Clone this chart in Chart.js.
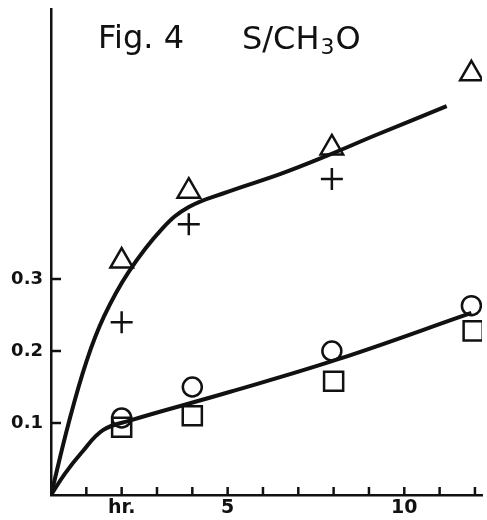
<!DOCTYPE html>
<html>
<head>
<meta charset="utf-8">
<script src="https://cdn.jsdelivr.net/npm/chart.js@4.4.1/dist/chart.umd.min.js"></script>
<style>
  body { margin: 0; background: #fff; }
  canvas { display: block; }
</style>
</head>
<body>
<canvas id="myChart" width="487" height="520"></canvas>
<script>
// points (time in hr, S/CH3O)
var triX = [2, 3.9, 7.95, 11.9];
var triY = [0.325, 0.422, 0.482, 0.585];
var crossX = [2, 3.9, 7.95];
var crossY = [0.240, 0.376, 0.439];
var circX = [2, 4, 7.95, 11.9];
var circY = [0.107, 0.150, 0.200, 0.263];
var sqX = [2, 4, 8, 11.95];
var sqY = [0.094, 0.110, 0.158, 0.228];

// hand drawn curves, traced
var upperX = [0, 0.5, 1.0, 1.5, 2.2, 3.15, 3.9, 5, 6.5, 7.8, 9.2, 11.2];
var upperY = [0, 0.10, 0.185, 0.248, 0.31, 0.37, 0.40, 0.421, 0.446, 0.471, 0.50, 0.54];
var lowerX = [0, 0.4, 0.85, 1.47, 2.2, 5.05, 8.15, 11.9];
var lowerY = [0, 0.03, 0.058, 0.09, 0.103, 0.143, 0.189, 0.253];

// ticks
var xTickMarks = [1, 2, 3, 4, 5, 6, 7, 8, 9, 10, 11, 12];
var xLabelAt = [2, 5, 10];
var xLabelText = ['hr.', '5', '10'];
var yTickValues = [0.1, 0.2, 0.3];
var yTickLabels = ['0.1', '0.2', '0.3'];

function pts(xs, ys) {
  return xs.map(function (x, i) { return {x: x, y: ys[i]}; });
}

var ink = '#111';

function marker(xs, ys, style, r) {
  return {
    type: 'scatter',
    data: pts(xs, ys),
    pointStyle: style,
    pointRadius: r,
    pointBorderWidth: 2.5,
    borderColor: ink,
    backgroundColor: 'rgba(0,0,0,0)'
  };
}

function curve(xs, ys) {
  return {
    type: 'line',
    data: pts(xs, ys),
    borderColor: ink,
    borderWidth: 4,
    pointRadius: 0,
    tension: 0.4,
    fill: false
  };
}

// short tick marks drawn inward, plus the lettered title
var handPlugin = {
  id: 'hand',
  afterDraw: function (chart) {
    var ctx = chart.ctx, xs = chart.scales.x, ys = chart.scales.y;
    ctx.save();
    ctx.strokeStyle = ink;
    ctx.lineWidth = 2.5;
    xTickMarks.forEach(function (v) {
      var px = xs.getPixelForValue(v);
      ctx.beginPath();
      ctx.moveTo(px, ys.bottom);
      ctx.lineTo(px, ys.bottom - 8);
      ctx.stroke();
    });
    yTickValues.forEach(function (v) {
      var py = ys.getPixelForValue(v);
      ctx.beginPath();
      ctx.moveTo(xs.left, py);
      ctx.lineTo(xs.left + 10, py);
      ctx.stroke();
    });
    ctx.fillStyle = ink;
    ctx.textBaseline = 'alphabetic';
    ctx.font = '32px "DejaVu Sans"';
    ctx.fillText('Fig. 4', 98, 48);
    var x0 = 242;
    ctx.fillText('S/CH', x0, 49);
    x0 += ctx.measureText('S/CH').width;
    ctx.font = '22px "DejaVu Sans"';
    ctx.fillText('3', x0 + 1, 54);
    x0 += ctx.measureText('3').width + 2;
    ctx.font = '32px "DejaVu Sans"';
    ctx.fillText('O', x0, 49);
    ctx.restore();
  }
};

var config = {
  data: {
    datasets: [
      curve(upperX, upperY),
      curve(lowerX, lowerY),
      marker(triX, triY, 'triangle', 13),
      marker(crossX, crossY, 'cross', 11),
      marker(circX, circY, 'circle', 9.5),
      marker(sqX, sqY, 'rect', 13.5)
    ]
  },
  options: {
    responsive: false,
    animation: false,
    devicePixelRatio: 1,
    layout: { autoPadding: false, padding: { top: 9, right: 5, left: 0, bottom: 0 } },
    plugins: { legend: { display: false }, tooltip: { enabled: false } },
    scales: {
      x: {
        type: 'linear',
        min: 0,
        max: 12.2,
        afterBuildTicks: function (s) {
          s.ticks = xTickMarks.map(function (v) { return {value: v}; });
        },
        afterFit: function (s) {
          s.height = 25;
          s.paddingLeft = 0;
          s.paddingRight = 0;
        },
        ticks: {
          autoSkip: false,
          maxRotation: 0,
          padding: 2,
          color: ink,
          font: { family: 'DejaVu Sans', size: 19, weight: 'bold' },
          callback: function (v) {
            var i = xLabelAt.indexOf(v);
            return i < 0 ? '' : xLabelText[i];
          }
        },
        grid: { display: true, drawOnChartArea: false, drawTicks: false },
        border: { color: ink, width: 2.5 }
      },
      y: {
        type: 'linear',
        min: 0,
        max: 0.675,
        afterBuildTicks: function (s) {
          s.ticks = yTickValues.map(function (v) { return {value: v}; });
        },
        afterFit: function (s) {
          s.width = 51;
          s.paddingTop = 0;
          s.paddingBottom = 0;
        },
        ticks: {
          padding: 8,
          color: ink,
          font: { family: 'DejaVu Sans', size: 18, weight: 'bold' },
          callback: function (v) {
            var i = yTickValues.indexOf(v);
            return i < 0 ? '' : yTickLabels[i];
          }
        },
        grid: { display: true, drawOnChartArea: false, drawTicks: false },
        border: { color: ink, width: 2.5 }
      }
    }
  },
  plugins: [handPlugin]
};

var myChart = new Chart(document.getElementById('myChart'), config);
</script>
</body>
</html>
